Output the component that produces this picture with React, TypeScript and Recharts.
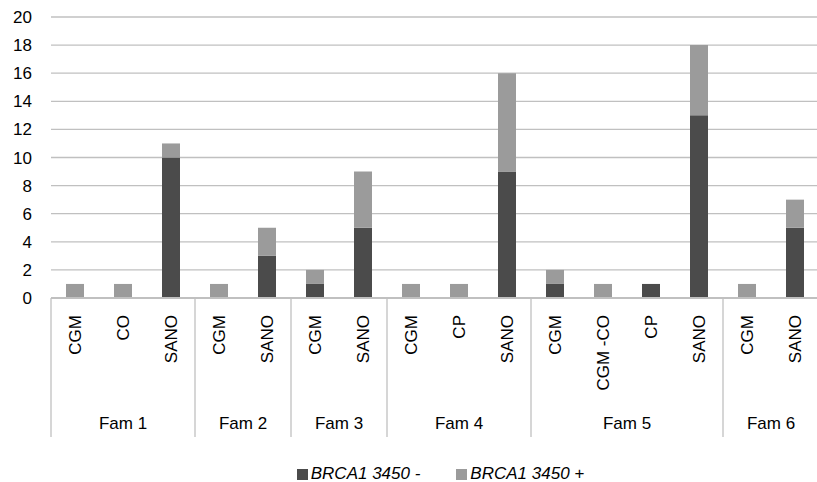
import React from 'react';
import { BarChart, Bar, XAxis, YAxis, CartesianGrid, Legend } from 'recharts';

const categories = ['CGM', 'CO', 'SANO', 'CGM', 'SANO', 'CGM', 'SANO', 'CGM', 'CP', 'SANO', 'CGM', 'CGM -CO', 'CP', 'SANO', 'CGM', 'SANO'];
const families = ['Fam 1', 'Fam 1', 'Fam 1', 'Fam 2', 'Fam 2', 'Fam 3', 'Fam 3', 'Fam 4', 'Fam 4', 'Fam 4', 'Fam 5', 'Fam 5', 'Fam 5', 'Fam 5', 'Fam 6', 'Fam 6'];
const negValues = [0, 0, 10, 0, 3, 1, 5, 0, 0, 9, 1, 0, 1, 13, 0, 5];
const posValues = [1, 1, 1, 1, 2, 1, 4, 1, 1, 7, 1, 1, 0, 5, 1, 2];
const yTicks = [0, 2, 4, 6, 8, 10, 12, 14, 16, 18, 20];
const seriesNames = ['BRCA1 3450 -', 'BRCA1 3450 +'];
const seriesColors = ['#4b4b4b', '#9b9b9b'];

const data = categories.map((c, i) => ({
  key: i,
  cat: c,
  fam: families[i],
  neg: negValues[i],
  pos: posValues[i],
}));

const CHART_W = 819;
const CHART_H = 482;
const Y_W = 51;
const BW = (CHART_W - Y_W) / categories.length;
const FONT = '"Liberation Sans", Arial, Helvetica, sans-serif';
const LINE = '#c0c0c0';

const XTick = (props: any) => {
  const { x, y, payload } = props;
  const i = payload.index;
  const first = i === 0 || families[i] !== families[i - 1];
  const last = i === families.length - 1;
  let count = 0;
  if (first) {
    for (let j = i; j < families.length && families[j] === families[i]; j++) count++;
  }
  return (
    <g>
      <text
        x={x}
        y={y + 17}
        transform={`rotate(-90, ${x}, ${y + 17})`}
        textAnchor="end"
        dy="0.36em"
        fontSize={17}
        fontFamily={FONT}
        fill="#000"
      >
        {categories[i]}
      </text>
      {first && (
        <line x1={x - BW / 2} x2={x - BW / 2} y1={y} y2={y + 139} stroke={LINE} strokeWidth={1.3} />
      )}
      {last && (
        <line x1={x + BW / 2} x2={x + BW / 2} y1={y} y2={y + 139} stroke={LINE} strokeWidth={1.3} />
      )}
      {first && (
        <text
          x={x + ((count - 1) * BW) / 2}
          y={y + 131}
          textAnchor="middle"
          fontSize={17}
          fontFamily={FONT}
          fill="#000"
        >
          {families[i]}
        </text>
      )}
    </g>
  );
};

const LegendContent = () => (
  <div
    style={{
      display: 'flex',
      justifyContent: 'center',
      alignItems: 'flex-end',
      height: 24,
      paddingLeft: 62,
      fontFamily: FONT,
      fontSize: 17,
      fontStyle: 'italic',
      lineHeight: '17px',
      color: '#000',
    }}
  >
    {seriesNames.map((n, k) => (
      <div key={n} style={{ display: 'flex', alignItems: 'flex-end', marginRight: k === 0 ? 36 : 0 }}>
        <span
          style={{
            display: 'inline-block',
            width: 11,
            height: 11,
            background: seriesColors[k],
            marginRight: 3,
            marginBottom: 2,
          }}
        />
        <span>{n}</span>
      </div>
    ))}
  </div>
);

export default function App() {
  return (
    <div style={{ position: 'absolute', left: 0, top: 0, width: 817, height: 482, overflow: 'hidden', background: '#fff' }}>
      <BarChart
        width={CHART_W}
        height={CHART_H}
        data={data}
        margin={{ top: 17, right: 0, bottom: 0, left: 0 }}
      >
        <CartesianGrid vertical={false} stroke={LINE} strokeWidth={1.3} />
        <XAxis
          dataKey="key"
          interval={0}
          tick={<XTick />}
          tickLine={false}
          tickSize={0}
          tickMargin={0}
          height={160}
          axisLine={{ stroke: LINE, strokeWidth: 2 }}
        />
        <YAxis
          width={Y_W}
          domain={[0, 20]}
          ticks={yTicks}
          interval={0}
          axisLine={false}
          tickLine={false}
          tickMargin={13}
          tick={{ fontSize: 17, fill: '#000', fontFamily: FONT }}
        />
        <Legend verticalAlign="bottom" content={<LegendContent />} wrapperStyle={{ height: 24 }} />
        <Bar dataKey="neg" name={seriesNames[0]} stackId="a" fill={seriesColors[0]} barSize={18} isAnimationActive={false} />
        <Bar dataKey="pos" name={seriesNames[1]} stackId="a" fill={seriesColors[1]} barSize={18} isAnimationActive={false} />
      </BarChart>
    </div>
  );
}
